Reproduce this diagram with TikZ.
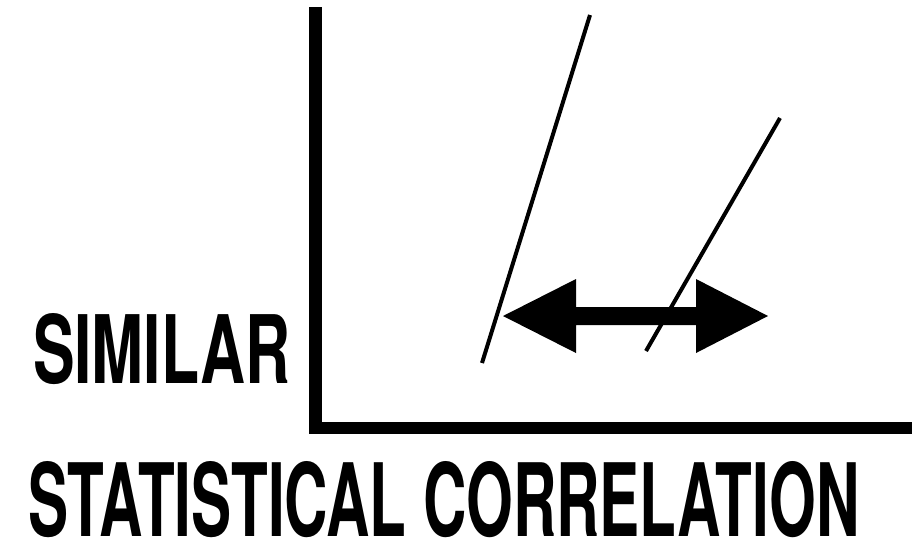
\documentclass[tikz,border=0pt]{standalone}
\usepackage{fontspec}
\setmainfont{TeX Gyre Heros}
\begin{document}
\begin{tikzpicture}[x=1pt,y=-1pt,
  axisline/.style={fill=black,draw=none},
  trendline/.style={line width=4pt,black},
  bigarrow/.style={fill=black,draw=none},
  label/.style={inner sep=0pt,outer sep=0pt,anchor=base west}]
\useasboundingbox[fill=white] (0,0) rectangle (923,547);
% axes
\fill[axisline] (309,7) rectangle (322,434);
\fill[axisline] (309,422) rectangle (912,434);
% trend lines
\coordinate (l1a) at (590,15);
\coordinate (l1b) at (482,363);
\coordinate (l2a) at (780,118);
\coordinate (l2b) at (646,351);
\draw[trendline] (l1a) -- (l1b);
\draw[trendline] (l2a) -- (l2b);
% double arrow
\fill[bigarrow] (503,316) -- (576,279) -- (576,307) -- (696,307) -- (696,279)
  -- (768,316) -- (696,353) -- (696,325) -- (576,325) -- (576,353) -- cycle;
% labels
\node[label] (similar) at (33,383) {\resizebox{257pt}{70pt}{\bfseries SIMILAR}};
\node[label] (stat) at (28,536) {\resizebox{831pt}{75pt}{\bfseries STATISTICAL CORRELATION}};
\end{tikzpicture}
\end{document}
